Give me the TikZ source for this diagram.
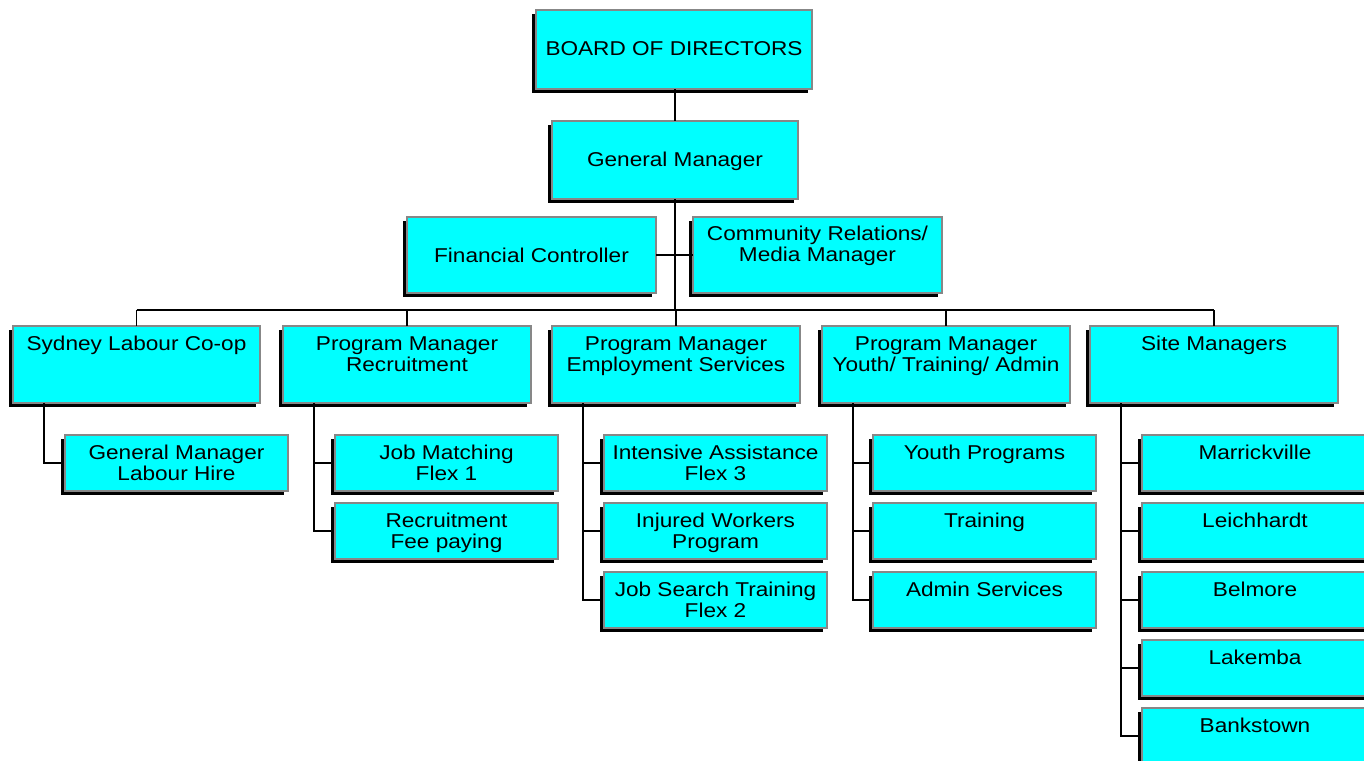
\documentclass[tikz,border=0pt]{standalone}
\usepackage{fontspec}
\setmainfont{Liberation Sans}[FakeStretch=1.13]
\usetikzlibrary{shadows}
\definecolor{boxcyan}{RGB}{0,255,255}
\definecolor{boxedge}{RGB}{135,135,135}
\tikzset{
  obox/.style={rectangle, anchor=north west, fill=boxcyan, draw=boxedge, line width=1.5pt,
    inner sep=0pt, outer sep=0pt,
    drop shadow={shadow xshift=-4pt, shadow yshift=-4pt, fill=black, opacity=1}},
  olbl/.style={anchor=north, inner sep=0pt, outer sep=0pt, align=center,
    font=\fontsize{20}{21.5}\selectfont},
  conn/.style={draw=black, line width=1.3pt}
}
% name, x, y, w, h, label drop (baseline offset - 18), text
\newcommand\orgbox[7]{%
  \node[obox, minimum width=#4pt, minimum height=#5pt] (#1) at (#2,#3) {};
  \node[olbl] (#1-t) at ([yshift=-#6pt]#1.north) {\rule{0pt}{18pt}#7};}
\begin{document}
\begin{tikzpicture}[x=1pt, y=-1pt]
\useasboundingbox (0,0) rectangle (1364,760);
% top
\orgbox{board}{536}{10}{276}{79}{27.5}{BOARD OF DIRECTORS}
\orgbox{gm}{552}{121}{246}{78}{27}{General Manager}
\orgbox{fin}{407}{217}{249}{76}{27}{Financial Controller}
\orgbox{com}{693}{217}{249}{76}{5}{Community Relations/\\Media Manager}
% level 2
\orgbox{syd}{13}{326}{247}{77}{6}{Sydney Labour Co-op}
\orgbox{rec}{283}{326}{248}{77}{6}{Program Manager\\Recruitment}
\orgbox{emp}{552}{326}{248}{77}{6}{Program Manager\\Employment Services}
\orgbox{yth}{822}{326}{248}{77}{6}{Program Manager\\Youth/ Training/ Admin}
\orgbox{site}{1090}{326}{248}{77}{6}{Site Managers}
% level 3
\orgbox{sydA}{65}{435}{223}{56}{6}{General Manager\\Labour Hire}
\orgbox{recA}{335}{435}{223}{56}{6}{Job Matching\\Flex 1}
\orgbox{recB}{335}{503}{223}{56}{6}{Recruitment\\Fee paying}
\orgbox{empA}{604}{435}{223}{56}{6}{Intensive Assistance\\Flex 3}
\orgbox{empB}{604}{503}{223}{56}{6}{Injured Workers\\Program}
\orgbox{empC}{604}{572}{223}{56}{6}{Job Search Training\\Flex 2}
\orgbox{ythA}{873}{435}{223}{56}{6}{Youth Programs}
\orgbox{ythB}{873}{503}{223}{56}{6}{Training}
\orgbox{ythC}{873}{572}{223}{56}{6}{Admin Services}
\orgbox{siteA}{1142}{435}{226}{56}{6}{Marrickville}
\orgbox{siteB}{1142}{503}{226}{56}{6}{Leichhardt}
\orgbox{siteC}{1142}{572}{226}{56}{6}{Belmore}
\orgbox{siteD}{1142}{640}{226}{56}{6}{Lakemba}
\orgbox{siteE}{1142}{708}{226}{56}{6}{Bankstown}
% connectors
\coordinate (bus) at (675,310);
\draw[conn] (board.south -| bus) -- (gm.north -| bus);
\draw[conn] (gm.south -| bus) -- (bus);
\draw[conn] (fin.east) -- (com.west);
\draw[conn] (syd.north |- bus) -- (site.north |- bus);
\foreach \n in {syd,rec,emp,yth,site}{
  \draw[conn] (\n.north |- bus) -- (\n.north);
}
\foreach \p/\c in {syd/sydA, rec/recA, rec/recB, emp/empA, emp/empB, emp/empC,
                   yth/ythA, yth/ythB, yth/ythC,
                   site/siteA, site/siteB, site/siteC, site/siteD, site/siteE}{
  \draw[conn] ([xshift=31pt]\p.south west) |- ([xshift=-4pt]\c.west);
}
\end{tikzpicture}
\end{document}
